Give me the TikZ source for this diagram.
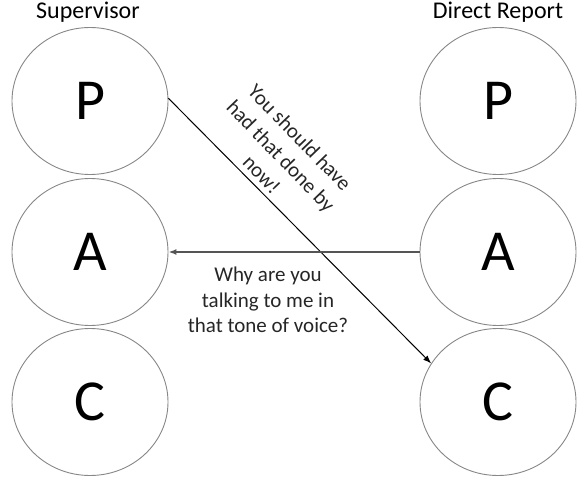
\documentclass[tikz,border=0pt]{standalone}
\usepackage{fontspec}
\setmainfont{Carlito}
\usetikzlibrary{positioning,arrows.meta,shapes.geometric}
\definecolor{cRing}{RGB}{135,135,135}
\definecolor{cReply}{RGB}{85,85,85}

\begin{document}
\begin{tikzpicture}[x=1pt,y=-1pt,
   egostate/.style={draw=cRing,ellipse,minimum width=156pt,minimum height=147pt,inner sep=0pt,line width=0.9pt,font=\fontsize{58}{60}\selectfont},
   role/.style={anchor=base,font=\fontsize{24}{28}\selectfont},
   msg/.style={align=center,font=\fontsize{21}{25.5}\selectfont,text=black!85},
   stimulus/.style={-{Latex[length=8pt,width=6pt]},line width=1pt},
   reply/.style={-{Latex[length=8pt,width=6pt]},draw=cReply,line width=1.6pt}]
  \useasboundingbox (0,0) rectangle (587,500);
  % ego states, supervisor left, direct report right
  \foreach \s/\y in {P/101,A/252,C/402} {
    \node[egostate] (sup\s) at (90,\y) {\s};
    \node[egostate] (rep\s) at (498,\y) {\s};
  }
  % headings
  \node[role] (supName) at (88,19) {Supervisor};
  \node[role] (repName) at (498,19) {Direct Report};
  % transactions
  \draw[stimulus] (supP.2) -- (repC.150);
  \draw[reply] (repA.west) -- (supA.east);
  \node[msg,font=\fontsize{21}{26.5}\selectfont,rotate=-46] (msgDown) at (281,156) {You should have\\had that done by\\now!};
  \node[msg] (msgUp) at (268,300) {Why are you\\talking to me in\\that tone of voice?};
\end{tikzpicture}
\end{document}
